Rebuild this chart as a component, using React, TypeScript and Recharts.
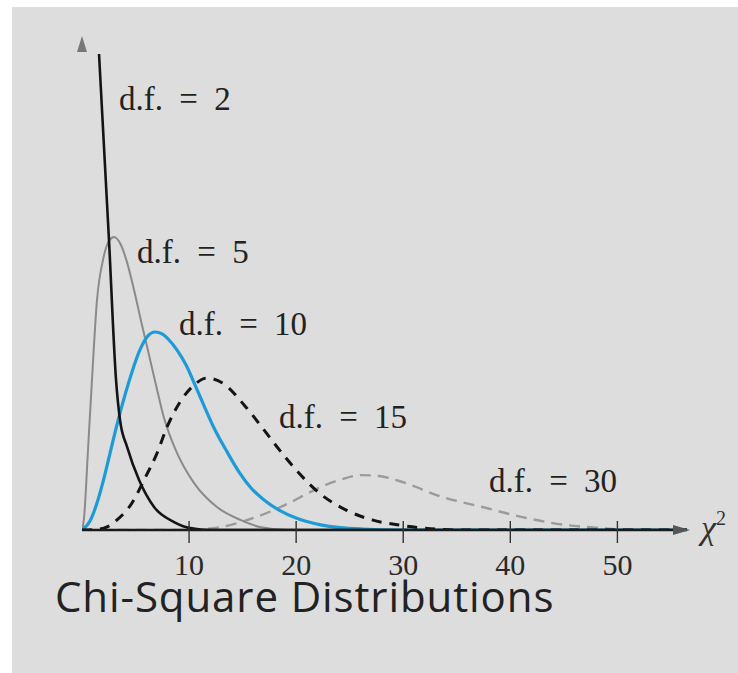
import { LineChart, Line, XAxis, YAxis, ReferenceDot } from "recharts";

// chi-square density curves, x = chi-square value, y = density
const xTicks = [10, 20, 30, 40, 50];

const df2X = [1.59, 2.52, 3.18, 3.55, 4.21, 5.33, 6.73, 8.6, 10.1, 12, 56.5];
const df2Y = [0.2505, 0.1526, 0.0789, 0.0579, 0.0437, 0.0263, 0.0121, 0.0042, 0.001, 0, 0];

const df5X = [0, 0.19, 0.56, 0.93, 1.4, 1.96, 2.52, 2.99, 3.64, 4.2, 4.86, 5.6, 6.26, 6.91, 7.66, 8.88, 10.47, 12.6, 14.8, 16.6, 19.3, 56.5];
const df5Y = [0, 0.0063, 0.0421, 0.0789, 0.121, 0.1421, 0.1521, 0.1542, 0.15, 0.141, 0.1263, 0.1079, 0.0921, 0.0763, 0.0589, 0.0405, 0.0247, 0.0121, 0.0053, 0.0016, 0, 0];

const df10X = [0, 0.75, 1.4, 2.06, 2.62, 3.55, 4.67, 5.33, 6.07, 6.82, 7.48, 8.13, 8.88, 9.72, 10.56, 11.4, 12.33, 13.55, 14.67, 15.79, 17.0, 18.4, 20.0, 22.4, 26.2, 29.6, 56.5];
const df10Y = [0, 0.0047, 0.0142, 0.0274, 0.0405, 0.0616, 0.0832, 0.0937, 0.1016, 0.1042, 0.1032, 0.1, 0.0947, 0.0868, 0.0763, 0.0653, 0.0537, 0.0411, 0.0305, 0.0221, 0.0158, 0.0105, 0.0063, 0.0026, 0.0005, 0, 0];

const df15X = [0, 1.59, 2.34, 3.27, 4.67, 5.79, 7.01, 7.94, 9.16, 10.47, 11.68, 13.27, 15.14, 17.01, 18.22, 20.0, 22.15, 24.67, 27.1, 29.6, 31.78, 35.2, 56.5];
const df15Y = [0, 0.0005, 0.0016, 0.0053, 0.0142, 0.0263, 0.0405, 0.0542, 0.0674, 0.0763, 0.08, 0.0768, 0.0658, 0.0526, 0.0437, 0.0316, 0.0195, 0.0105, 0.0053, 0.0026, 0.0011, 0, 0];

const df30X = [0, 9.07, 11.4, 13.46, 15.14, 16.54, 19.35, 21.5, 24.02, 26.07, 27.76, 29.63, 33.64, 37.38, 41.12, 45.23, 48.32, 52.06, 56.5];
const df30Y = [0, 0, 0.0005, 0.0021, 0.0047, 0.0074, 0.0142, 0.0205, 0.0263, 0.0289, 0.0284, 0.0258, 0.0174, 0.0121, 0.0068, 0.0026, 0.0011, 0, 0];

const labelText = ["d.f. = 2", "d.f. = 5", "d.f. = 10", "d.f. = 15", "d.f. = 30"];
const labelX = [3.46, 5.14, 9.06, 18.4, 38.0];
const labelY = [0.2211, 0.1405, 0.1026, 0.0537, 0.02];

const X_MAX = 56.5;
const Y_MAX = 0.26;

const toPoints = (xs: number[], ys: number[]) => xs.map((x, i) => ({ x, y: ys[i] }));

const SERIF = "'Liberation Serif', 'Times New Roman', serif";

const series = [
  { key: "df30", data: toPoints(df30X, df30Y), stroke: "#9b9b9b", width: 2.4, dash: "11 7" },
  { key: "df5", data: toPoints(df5X, df5Y), stroke: "#8a8a8a", width: 2, dash: undefined },
  { key: "df10", data: toPoints(df10X, df10Y), stroke: "#1d9bd6", width: 3.2, dash: undefined },
  { key: "df15", data: toPoints(df15X, df15Y), stroke: "#141414", width: 3, dash: "10 8" },
  { key: "df2", data: toPoints(df2X, df2Y), stroke: "#141414", width: 2.6, dash: undefined },
];

function XTick(props: any) {
  const { x, y, payload } = props;
  return (
    <g>
      <line x1={x} x2={x} y1={y - 9} y2={y + 13} stroke="#333" strokeWidth={1.4} />
      <text x={x} y={y + 45} textAnchor="middle" fontFamily={SERIF} fontSize={30} fill="#2a2a2a">
        {payload.value}
      </text>
    </g>
  );
}

const upArrow = (p: any) => (
  <polygon points={`${p.cx},${p.cy} ${p.cx - 5},${p.cy + 16} ${p.cx + 5},${p.cy + 16}`} fill="#777" />
);

const rightArrow = (p: any) => (
  <g>
    <polygon points={`${p.cx + 3},${p.cy} ${p.cx - 14},${p.cy - 5} ${p.cx - 14},${p.cy + 5}`} fill="#555" />
    <text x={p.cx + 14} y={p.cy + 9} fontFamily={SERIF} fontStyle="italic" fontSize={34} fill="#333">
      χ
      <tspan dy={-14} fontSize={20} fontStyle="normal">2</tspan>
    </text>
  </g>
);

const labelShape = (text: string) => (p: any) => (
  <text x={p.cx} y={p.cy} fontFamily={SERIF} fontSize={33} fill="#222" style={{ wordSpacing: "8px" }}>
    {text}
  </text>
);

export default function App() {
  return (
    <div style={{ position: "absolute", left: 0, top: 0, width: 738, height: 673, background: "#fff" }}>
      <div style={{ position: "absolute", left: 12, top: 7, right: 0, bottom: 0, background: "#dcdddc" }} />
      <div style={{ position: "absolute", left: 0, top: 0 }}>
        <LineChart width={738} height={673} margin={{ top: 36, right: 51, bottom: 0, left: 82 }}>
          <XAxis
            type="number"
            dataKey="x"
            domain={[0, X_MAX]}
            ticks={xTicks}
            allowDataOverflow
            height={143}
            tickLine={false}
            tickSize={0}
            tickMargin={0}
            tick={<XTick />}
            axisLine={{ stroke: "#1a1a1a", strokeWidth: 2.5 }}
          />
          <YAxis
            type="number"
            dataKey="y"
            domain={[0, Y_MAX]}
            allowDataOverflow
            width={0}
            tick={false}
            tickLine={false}
            axisLine={{ stroke: "#7a7a7a", strokeWidth: 2 }}
          />
          {series.map((s) => (
            <Line
              key={s.key}
              data={s.data}
              dataKey="y"
              type="monotone"
              stroke={s.stroke}
              strokeWidth={s.width}
              strokeDasharray={s.dash}
              dot={false}
              activeDot={false}
              isAnimationActive={false}
            />
          ))}
          <ReferenceDot x={0} y={Y_MAX} r={0} ifOverflow="visible" shape={upArrow} />
          <ReferenceDot x={X_MAX} y={0} r={0} ifOverflow="visible" shape={rightArrow} />
          {labelText.map((t, i) => (
            <ReferenceDot key={t} x={labelX[i]} y={labelY[i]} r={0} ifOverflow="visible" shape={labelShape(t)} />
          ))}
        </LineChart>
      </div>
      <div
        style={{
          position: "absolute",
          left: 55,
          top: 580,
          fontFamily: "'Open Sans', sans-serif",
          fontSize: 42,
          lineHeight: "32px",
          letterSpacing: 0.9,
          color: "#222",
          whiteSpace: "nowrap",
        }}
      >
        Chi-Square Distributions
      </div>
    </div>
  );
}
